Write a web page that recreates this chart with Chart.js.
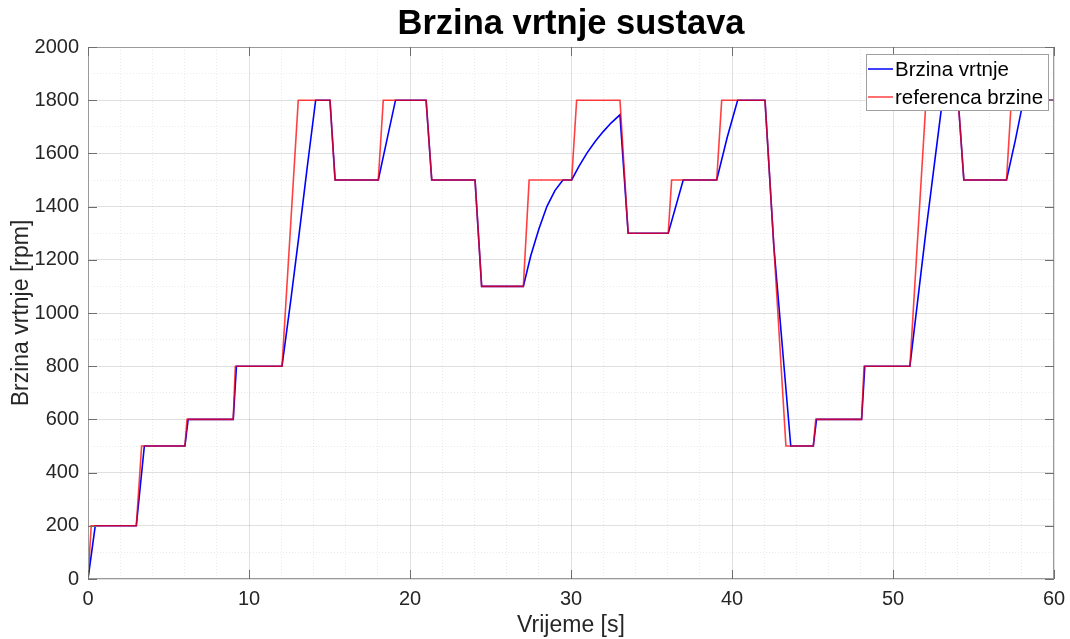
<!DOCTYPE html>
<html>
<head>
<meta charset="utf-8">
<script src="https://cdn.jsdelivr.net/npm/chart.js@4.4.1/dist/chart.umd.min.js"></script>
<style>
  body { margin: 0; background: #fff; }
  #wrap { width: 1070px; height: 639px; }
</style>
</head>
<body>
<div id="wrap"><canvas id="speed_chart" width="1070" height="639"></canvas></div>
<script>
///////////   DATA  /////////////////

// referenca brzine (red)
const refTime  = [0, 0.2, 3.0, 3.33, 6.02, 6.15, 9.02, 9.15, 12.05, 13.06, 15.03, 15.34, 18.03, 18.34, 21.0, 21.35,
                  24.04, 24.45, 27.04, 27.4, 30.04, 30.35, 33.04, 33.55, 36.04, 36.25, 39.05, 39.36, 42.05, 43.35,
                  45.05, 45.2, 48.05, 48.2, 51.05, 52.05, 54.05, 54.4, 57.05, 57.35, 60];
const refSpeed = [0, 200, 200, 500, 500, 600, 600, 800, 800, 1800, 1800, 1500, 1500, 1800, 1800, 1500,
                  1500, 1100, 1100, 1500, 1500, 1800, 1800, 1300, 1300, 1500, 1500, 1800, 1800, 500,
                  500, 600, 600, 800, 800, 1800, 1800, 1500, 1500, 1800, 1800];

// brzina vrtnje (blue)
const motorTime  = [0, 0.45, 3.0, 3.5, 6.02, 6.22, 9.02, 9.22, 12.05, 12.6, 13.1, 13.6, 14.14, 15.03, 15.35,
                    18.03, 18.6, 19.1, 21.0, 21.35, 24.04, 24.45, 27.04, 27.5, 28.0, 28.5, 29.0, 29.5, 30.04,
                    30.5, 31.0, 31.5, 32.0, 32.5, 33.04, 33.55, 36.04, 36.97, 39.05, 39.7, 40.35, 42.05, 42.6,
                    43.65, 45.05, 45.25, 48.05, 48.25, 51.05, 52.05, 53.05, 53.15, 54.05, 54.4, 57.05, 57.6,
                    58.1, 60];
const motorSpeed = [0, 200, 200, 500, 500, 600, 600, 800, 800, 1050, 1290, 1540, 1800, 1800, 1500,
                    1500, 1660, 1800, 1800, 1500, 1500, 1100, 1100, 1215, 1315, 1400, 1460, 1500, 1500,
                    1552, 1602, 1645, 1682, 1715, 1745, 1300, 1300, 1500, 1500, 1660, 1800, 1800, 1250,
                    500, 500, 600, 600, 800, 800, 1310, 1790, 1800, 1800, 1500, 1500, 1650,
                    1800, 1800];

const xTicks = [0, 10, 20, 30, 40, 50, 60];
const yTicks = [0, 200, 400, 600, 800, 1000, 1200, 1400, 1600, 1800, 2000];

const titleText = "Brzina vrtnje sustava";
const legendLabels = ["Brzina vrtnje", "referenca brzine"];

///////////   HELPERS  /////////////////

const FONT = "'Liberation Sans', Arial, Helvetica, sans-serif";
const BLUE = "#0000ff";
const RED = "rgba(255, 0, 0, 0.75)";

function toPoints(xs, ys) {
  return xs.map((x, i) => ({ x: x, y: ys[i] }));
}

function gridColor(major) {
  return ctx => {
    if (!ctx.tick) return "rgba(0,0,0,0)";
    return major.includes(ctx.tick.value) ? "rgba(0,0,0,0.12)" : "rgba(0,0,0,0.08)";
  };
}

function gridDash(major) {
  return ctx => {
    if (!ctx.tick) return [];
    return major.includes(ctx.tick.value) ? [] : [1, 2];
  };
}

////////////// Title, box + ticks, legend /////////////

const matlabLook = {
  id: "matlabLook",
  afterDatasetsDraw(chart) {
    const c = chart.ctx;
    const a = chart.chartArea;
    const xs = chart.scales.x, ys = chart.scales.y;

    // box
    c.save();
    c.strokeStyle = "#9a9a9a";
    c.lineWidth = 1;
    c.strokeRect(a.left + 0.5, a.top + 0.5, a.right - a.left - 1, a.bottom - a.top - 1);

    // inward ticks
    c.strokeStyle = "#6e6e6e";
    c.beginPath();
    xTicks.forEach(v => {
      const px = Math.round(xs.getPixelForValue(v)) + 0.5;
      c.moveTo(px, a.bottom); c.lineTo(px, a.bottom - 9);
      c.moveTo(px, a.top); c.lineTo(px, a.top + 9);
    });
    yTicks.forEach(v => {
      const py = Math.round(ys.getPixelForValue(v)) + 0.5;
      c.moveTo(a.left, py); c.lineTo(a.left + 9, py);
      c.moveTo(a.right, py); c.lineTo(a.right - 9, py);
    });
    c.stroke();

    // legend
    const lx = 866, ly = 54, lw = 182, lh = 56;
    c.fillStyle = "#fff";
    c.fillRect(lx, ly, lw, lh);
    c.strokeStyle = "#a0a0a0";
    c.strokeRect(lx + 0.5, ly + 0.5, lw, lh);
    c.font = "20.5px " + FONT;
    c.textBaseline = "middle";
    c.fillStyle = "#000";
    [[BLUE, 69], [RED, 97]].forEach((row, i) => {
      c.strokeStyle = row[0];
      c.lineWidth = 1.5;
      c.beginPath();
      c.moveTo(868, row[1]); c.lineTo(893, row[1]);
      c.stroke();
      c.fillText(legendLabels[i], 895, row[1] + 1);
    });

    // title over plot area
    c.font = "bold 34.5px " + FONT;
    c.textAlign = "center";
    c.textBaseline = "middle";
    c.fillStyle = "#000";
    c.fillText(titleText, (a.left + a.right) / 2, 24);
    c.restore();
  }
};

////////////// Line chart /////////////

new Chart(document.querySelector("#speed_chart"), {
  type: "line",
  data: {
    datasets: [
      {
        label: legendLabels[0],
        data: toPoints(motorTime, motorSpeed),
        borderColor: BLUE,
        borderWidth: 1.6,
        pointRadius: 0,
        tension: 0,
        order: 2
      },
      {
        label: legendLabels[1],
        data: toPoints(refTime, refSpeed),
        borderColor: RED,
        borderWidth: 1.6,
        pointRadius: 0,
        tension: 0,
        order: 1
      }
    ]
  },
  options: {
    responsive: false,
    animation: false,
    devicePixelRatio: 1,
    layout: { padding: { top: 47, right: 16, left: 0, bottom: 0 } },
    plugins: {
      legend: { display: false },
      title: { display: false },
      tooltip: { enabled: false }
    },
    scales: {
      x: {
        type: "linear",
        min: 0,
        max: 60,
        afterFit: scale => {
          scale.height = 60;
          scale.paddingLeft = 0;
          scale.paddingRight = 0;
        },
        ticks: {
          stepSize: 2,
          autoSkip: false,
          maxRotation: 0,
          padding: 8,
          color: "#262626",
          font: { family: FONT, size: 20 },
          callback: v => xTicks.includes(v) ? String(v) : ""
        },
        grid: { drawTicks: false, color: gridColor(xTicks), lineWidth: 1 },
        border: { display: false, dash: gridDash(xTicks) },
        title: {
          display: true,
          text: "Vrijeme [s]",
          color: "#262626",
          font: { family: FONT, size: 23 },
          padding: { top: 0, bottom: 0 }
        }
      },
      y: {
        type: "linear",
        min: 0,
        max: 2000,
        afterFit: scale => { scale.width = 88; },
        ticks: {
          stepSize: 100,
          autoSkip: false,
          padding: 9,
          color: "#262626",
          font: { family: FONT, size: 20 },
          callback: v => yTicks.includes(v) ? String(v) : ""
        },
        grid: { drawTicks: false, color: gridColor(yTicks), lineWidth: 1 },
        border: { display: false, dash: gridDash(yTicks) },
        title: {
          display: true,
          text: "Brzina vrtnje [rpm]",
          color: "#262626",
          font: { family: FONT, size: 23 },
          padding: { top: 8, bottom: 0 }
        }
      }
    }
  },
  plugins: [matlabLook]
});
</script>
</body>
</html>
